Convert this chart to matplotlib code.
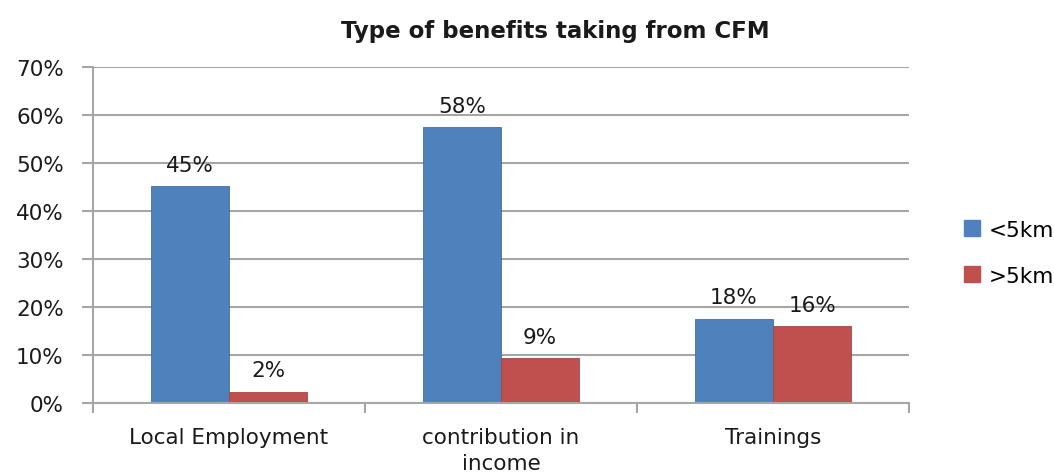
import matplotlib.pyplot as plt
import numpy as np
from matplotlib.patches import Patch
from matplotlib.ticker import PercentFormatter

plt.rcParams['font.family'] = ['DejaVu Sans']

# Données
categories = ["Local Employment", "contribution in\nincome", "Trainings"]
series_names = ["<5km", ">5km"]
below_5km = [0.453, 0.576, 0.176]
above_5km = [0.024, 0.094, 0.161]
y_ticks = [0, 0.1, 0.2, 0.3, 0.4, 0.5, 0.6, 0.7]

blue = "#4F81BD"
red = "#C0504D"
grey = "#A6A6A6"
txt = "#1a1a1a"
fs = 15.5

fig = plt.figure(figsize=(10.54, 4.77), dpi=100)
ax = fig.add_axes([0.0882, 0.153, 0.7742, 0.704])

x = np.arange(len(categories))
w = 0.288
b1 = ax.bar(x - w / 2, below_5km, w, color=blue, edgecolor="#3f6fa8", linewidth=0.6)
b2 = ax.bar(x + w / 2, above_5km, w, color=red, edgecolor="#a84441", linewidth=0.6)

# Étiquettes de valeurs
for bars, vals in [(b1, below_5km), (b2, above_5km)]:
    for bar, v in zip(bars, vals):
        ax.annotate(f"{v:.0%}", (bar.get_x() + bar.get_width() / 2, v),
                    xytext=(0, 8), textcoords="offset points",
                    ha="center", va="bottom", fontsize=fs, color=txt)

ax.set_xlim(-0.5, 2.5)
ax.set_ylim(0, 0.7)
ax.set_yticks(y_ticks)
ax.yaxis.set_major_formatter(PercentFormatter(1.0, decimals=0))
ax.grid(axis="y", color=grey, linewidth=1.5)
ax.set_axisbelow(True)

# Axe X : graduations entre les catégories
ax.set_xticks([-0.5, 0.5, 1.5, 2.5])
ax.set_xticklabels([])
ax.set_xticks(x, minor=True)
ax.set_xticklabels(categories, minor=True, fontsize=fs, color=txt, linespacing=1.4)
ax.tick_params(axis="x", which="major", length=7, width=1.5, color=grey)
ax.tick_params(axis="x", which="minor", length=0, pad=17)
ax.tick_params(axis="y", length=8, width=1.5, color=grey, pad=13,
               labelsize=fs, labelcolor=txt)

for s in ["top", "right"]:
    ax.spines[s].set_visible(False)
for s in ["left", "bottom"]:
    ax.spines[s].set_color(grey)
    ax.spines[s].set_linewidth(1.5)

fig.text(0.527, 0.935, "Type of benefits taking from CFM", ha="center", va="center",
         fontsize=16.5, fontweight="bold", color=txt)

handles = [Patch(facecolor=blue, edgecolor=blue), Patch(facecolor=red, edgecolor=red)]
fig.legend(handles, series_names, loc="center left", bbox_to_anchor=(0.896, 0.468),
           frameon=False, fontsize=fs, handlelength=0.75, handleheight=0.75,
           handletextpad=0.4, labelspacing=1.2)

plt.savefig("out.png", dpi=100)
plt.close()
